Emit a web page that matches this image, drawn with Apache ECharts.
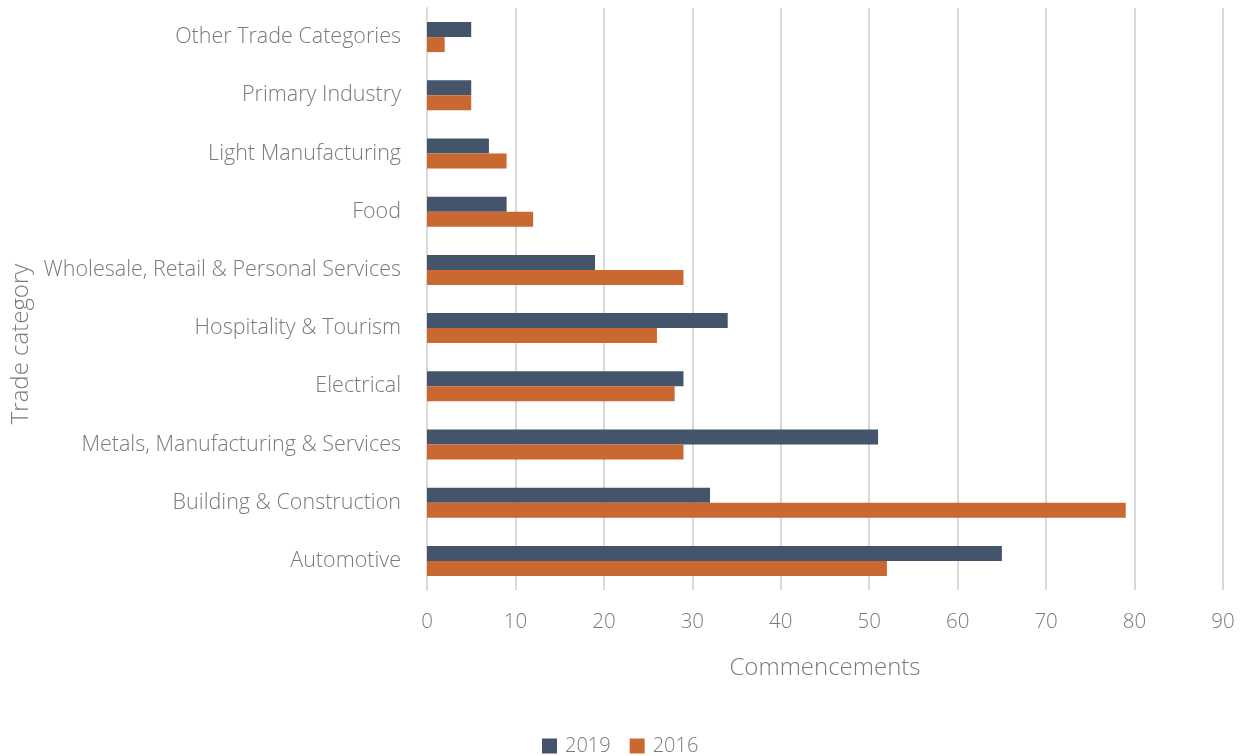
<!DOCTYPE html>
<html>
<head>
<meta charset="utf-8">
<script src="https://cdn.jsdelivr.net/npm/echarts@6/dist/echarts.min.js"></script>
<style>
  html, body { margin: 0; padding: 0; background: #ffffff; }
  #chart { width: 1251px; height: 756px; }
</style>
</head>
<body>
<div id="chart"></div>
<script>
// Trade categories, listed from the bottom of the axis upwards
const categories = [
  'Automotive',
  'Building & Construction',
  'Metals, Manufacturing & Services',
  'Electrical',
  'Hospitality & Tourism',
  'Wholesale, Retail & Personal Services',
  'Food',
  'Light Manufacturing',
  'Primary Industry',
  'Other Trade Categories'
];
const values2019 = [65, 32, 51, 29, 34, 19, 9, 7, 5, 5];
const values2016 = [52, 79, 29, 28, 26, 29, 12, 9, 5, 2];
const xTicks = { min: 0, max: 90, interval: 10 };

const FONT = 'Open Sans';
const TEXT = '#7a7a7a';

const chart = echarts.init(document.getElementById('chart'), null, { renderer: 'canvas' });
chart.setOption({
  animation: false,
  backgroundColor: '#ffffff',
  textStyle: { fontFamily: FONT, fontWeight: 300 },
  grid: { left: 427, right: 28, top: 8, bottom: 166, containLabel: false },
  legend: {
    data: ['2019', '2016'],
    bottom: 0,
    left: 542,
    padding: 0,
    itemWidth: 15,
    itemHeight: 15,
    itemGap: 19,
    icon: 'rect',
    textStyle: { fontFamily: FONT, fontWeight: 300, fontSize: 20, color: TEXT, padding: [0, 0, 0, 3] }
  },
  xAxis: {
    type: 'value',
    min: xTicks.min,
    max: xTicks.max,
    interval: xTicks.interval,
    name: 'Commencements',
    nameLocation: 'middle',
    nameGap: 66,
    nameTextStyle: { fontFamily: FONT, fontWeight: 300, fontSize: 24, color: TEXT },
    axisLine: { show: false },
    axisTick: { show: false },
    axisLabel: { margin: 22, fontFamily: FONT, fontWeight: 300, fontSize: 20.5, color: TEXT },
    splitLine: { show: true, lineStyle: { color: '#d9d9d9', width: 2 } }
  },
  yAxis: {
    type: 'category',
    data: categories,
    name: 'Trade category',
    nameLocation: 'middle',
    nameRotate: 90,
    nameGap: 390,
    nameTextStyle: { fontFamily: FONT, fontWeight: 300, fontSize: 24, color: TEXT, padding: [0, 90, 0, 0] },
    axisLine: { show: true, lineStyle: { color: '#d9d9d9', width: 2 } },
    axisTick: { show: false },
    axisLabel: { margin: 26, fontFamily: FONT, fontWeight: 300, fontSize: 21.5, color: TEXT },
    splitLine: { show: false }
  },
  series: [
    {
      name: '2019',
      type: 'bar',
      data: values2019,
      barWidth: 15,
      barGap: '0%',
      itemStyle: { color: '#44546a' }
    },
    {
      name: '2016',
      type: 'bar',
      data: values2016,
      barWidth: 15,
      barGap: '0%',
      itemStyle: { color: '#c96830' }
    }
  ]
});
</script>
</body>
</html>
